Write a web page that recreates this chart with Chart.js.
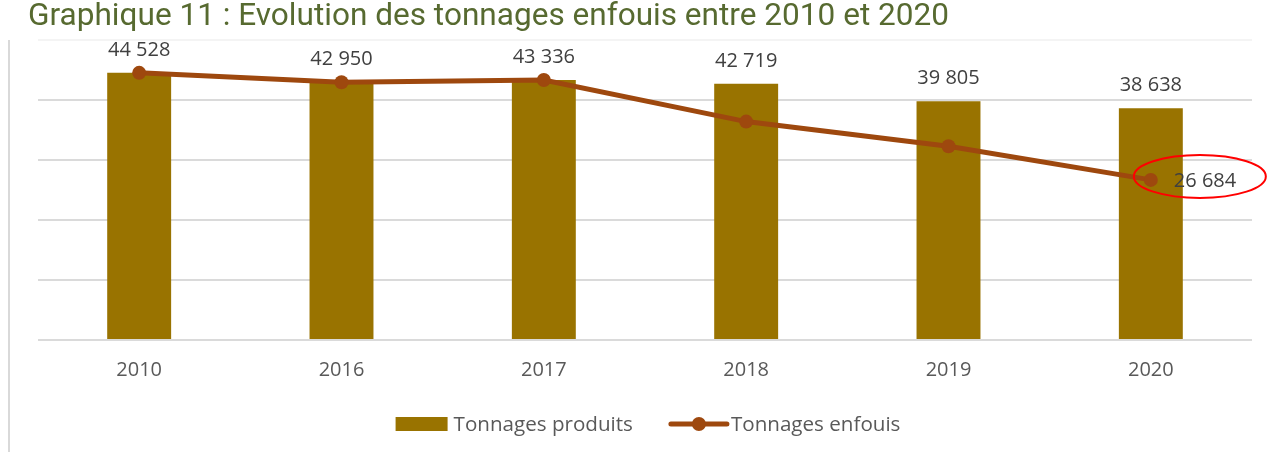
<!DOCTYPE html>
<html>
<head>
<meta charset="utf-8">
<script src="https://cdn.jsdelivr.net/npm/chart.js@4.4.1/dist/chart.umd.min.js"></script>
<style>
  html, body { margin: 0; padding: 0; background: #ffffff; }
  #chart { display: block; }
</style>
</head>
<body>
<canvas id="chart" width="1267" height="452"></canvas>
<script>
var titre = 'Graphique 11 : Evolution des tonnages enfouis entre 2010 et 2020';
var annees = ['2010', '2016', '2017', '2018', '2019', '2020'];
var tonnagesProduits = [44528, 42950, 43336, 42719, 39805, 38638];
var tonnagesEnfouis = [44528, 42950, 43336, 36400, 32300, 26684];
var yTicks = [0, 10000, 20000, 30000, 40000, 50000];

Chart.defaults.font.family = 'Open Sans';
Chart.defaults.font.size = 20;

function fmt(v) {
    return String(v).replace(/\B(?=(\d{3})+(?!\d))/g, ' ');
}

// titre, cadre gauche, étiquettes, ellipse et légende
var decor = {
    id: 'decor',
    beforeDraw: function (chart) {
        var ctx = chart.ctx;
        var area = chart.chartArea;
        ctx.save();
        ctx.strokeStyle = '#d9d9d9';
        ctx.lineWidth = 2;
        ctx.beginPath();
        ctx.moveTo(9, area.top);
        ctx.lineTo(9, chart.height);
        ctx.stroke();

        ctx.font = '32px Roboto';
        ctx.fillStyle = '#576a30';
        ctx.textBaseline = 'alphabetic';
        var w = ctx.measureText(titre).width;
        var target = 921;
        ctx.translate(28, 25);
        ctx.scale(target / w, 1);
        ctx.fillText(titre, 0, 0);
        ctx.restore();
    },
    afterDraw: function (chart) {
        var ctx = chart.ctx;
        var area = chart.chartArea;
        var bars = chart.getDatasetMeta(0).data;
        var pts = chart.getDatasetMeta(1).data;
        ctx.save();
        ctx.font = '20px "Open Sans"';
        ctx.fillStyle = '#404040';
        ctx.textAlign = 'center';
        ctx.textBaseline = 'alphabetic';
        bars.forEach(function (b, i) {
            ctx.fillText(fmt(tonnagesProduits[i]), b.x, b.y - 17);
        });

        var last = pts[pts.length - 1];
        ctx.textAlign = 'left';
        ctx.textBaseline = 'middle';
        ctx.fillText(fmt(tonnagesEnfouis[tonnagesEnfouis.length - 1]), last.x + 23, last.y + 1);

        ctx.strokeStyle = '#ff0000';
        ctx.lineWidth = 2;
        ctx.beginPath();
        ctx.ellipse(last.x + 49, last.y - 3.5, 66, 21.5, 0, 0, Math.PI * 2);
        ctx.stroke();

        // légende
        var ds = chart.data.datasets;
        ctx.font = '20.6px "Open Sans"';
        var t1 = ctx.measureText(ds[0].label).width;
        var t2 = ctx.measureText(ds[1].label).width;
        var total = 52 + 6 + t1 + 38 + 56 + 4 + t2;
        var x = (area.left + area.right) / 2 - total / 2 + 3;
        var y = 424;
        ctx.fillStyle = ds[0].backgroundColor;
        ctx.fillRect(x, y - 7, 52, 14);
        ctx.fillStyle = '#595959';
        ctx.textAlign = 'left';
        ctx.textBaseline = 'middle';
        ctx.fillText(ds[0].label, x + 58, y + 1);
        x += 58 + t1 + 38;
        ctx.strokeStyle = ds[1].borderColor;
        ctx.lineWidth = 5;
        ctx.lineCap = 'round';
        ctx.beginPath();
        ctx.moveTo(x, y);
        ctx.lineTo(x + 56, y);
        ctx.stroke();
        ctx.fillStyle = ds[1].pointBackgroundColor;
        ctx.beginPath();
        ctx.arc(x + 28, y, 7, 0, Math.PI * 2);
        ctx.fill();
        ctx.fillStyle = '#595959';
        ctx.fillText(ds[1].label, x + 60, y + 1);
        ctx.restore();
    }
};

new Chart(document.getElementById('chart'), {
    data: {
        labels: annees,
        datasets: [
            {
                type: 'bar',
                label: 'Tonnages produits',
                data: tonnagesProduits,
                backgroundColor: '#997300',
                categoryPercentage: 1,
                barPercentage: 0.316,
                order: 2
            },
            {
                type: 'line',
                label: 'Tonnages enfouis',
                data: tonnagesEnfouis,
                borderColor: '#9e480e',
                borderWidth: 5,
                pointRadius: 7,
                pointHoverRadius: 7,
                pointBackgroundColor: '#9e480e',
                pointBorderWidth: 0,
                tension: 0,
                order: 1
            }
        ]
    },
    options: {
        responsive: false,
        animation: false,
        layout: { padding: { left: 38, right: 15, top: 40, bottom: 52 } },
        plugins: {
            legend: { display: false },
            title: { display: false },
            tooltip: { enabled: false }
        },
        scales: {
            x: {
                grid: { display: false, drawTicks: false },
                border: { display: false },
                ticks: { color: '#595959', padding: 18, font: { size: 20 } },
                afterFit: function (s) { s.height = 60; }
            },
            y: {
                min: yTicks[0],
                max: yTicks[yTicks.length - 1],
                afterBuildTicks: function (s) {
                    s.ticks = yTicks.map(function (v) { return { value: v }; });
                },
                ticks: { display: false },
                border: { display: false },
                grid: {
                    drawTicks: false,
                    lineWidth: 2,
                    color: function (c) {
                        return c.tick && c.tick.value === yTicks[yTicks.length - 1] ? '#f4f4f4' : '#dadada';
                    }
                },
                afterFit: function (s) { s.width = 0; }
            }
        }
    },
    plugins: [decor]
});
</script>
</body>
</html>
